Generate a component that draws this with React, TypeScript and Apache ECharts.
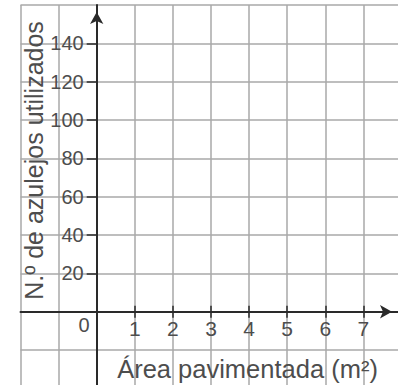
import React, { useEffect, useRef } from "react";
import * as echarts from "echarts";

// Axis ranges (grid paper extends into the negative region)
const xRange = [-2, 8];
const yRange = [-40, 160];
const xStep = 1;
const yStep = 20;

// Tick labels
const xTickLabels = [1, 2, 3, 4, 5, 6, 7];
const yTickLabels = [20, 40, 60, 80, 100, 120, 140];
const originLabel = "0";

// Titles
const xTitle = "Área pavimentada (m²)";
const yTitle = "N.º de azulejos utilizados";

const FONT = "'Liberation Sans', Arial, sans-serif";
const TEXT_COLOR = "#4d4d4d";
const AXIS_COLOR = "#2a2a2a";
const GRID_COLOR = "#a8a8a8";

const W = 398;
const H = 385;
const GRID = { left: 20.5, right: -3.5, top: 5, bottom: -3.4 };

export default function App() {
  const ref = useRef<HTMLDivElement>(null);

  useEffect(() => {
    if (!ref.current) return;
    const chart = echarts.init(ref.current, null, { renderer: "svg" });

    // pixel position of the zero lines inside the grid, used to offset the drawn axes
    const gw = W - GRID.left - GRID.right;
    const gh = H - GRID.top - GRID.bottom;
    const zeroX = GRID.left + ((0 - xRange[0]) / (xRange[1] - xRange[0])) * gw;
    const zeroY = GRID.top + ((yRange[1] - 0) / (yRange[1] - yRange[0])) * gh;
    const yAxisOffset = -(zeroX - GRID.left);
    const xBottomOffset = -(GRID.top + gh - zeroY);
    const xTopOffset = -(zeroY - GRID.top);

    const baseX = { type: "value", min: xRange[0], max: xRange[1], interval: xStep };
    const baseY = { type: "value", min: yRange[0], max: yRange[1], interval: yStep };

    const option: any = {
      animation: false,
      backgroundColor: "#ffffff",
      grid: {
        ...GRID,
        containLabel: false,
        outerBoundsMode: "none",
      },
      xAxis: [
        {
          ...baseX,
          z: 0,
          axisLine: { show: false, onZero: false },
          axisTick: { show: false },
          axisLabel: { show: false },
          splitLine: { show: true, lineStyle: { color: GRID_COLOR, width: 1.5 } },
        },
        {
          ...baseX,
          position: "bottom",
          offset: xBottomOffset,
          z: 3,
          axisLine: {
            show: true,
            onZero: false,
            symbol: ["none", "arrow"],
            symbolSize: [10, 12],
            symbolOffset: [0, -9.5],
            lineStyle: { color: AXIS_COLOR, width: 2 },
          },
          axisTick: {
            show: true,
            customValues: xTickLabels,
            length: 6,
            lineStyle: { color: AXIS_COLOR, width: 1.5 },
          },
          axisLabel: {
            show: true,
            customValues: xTickLabels,
            margin: 6,
            fontSize: 21,
            fontFamily: FONT,
            color: TEXT_COLOR,
            formatter: (v: number) => (xTickLabels.includes(v) ? String(v) : ""),
          },
          splitLine: { show: false },
        },
        {
          ...baseX,
          position: "top",
          offset: xTopOffset,
          z: 3,
          axisLine: { show: false, onZero: false },
          axisTick: {
            show: true,
            customValues: xTickLabels,
            length: 6,
            lineStyle: { color: AXIS_COLOR, width: 1.5 },
          },
          axisLabel: { show: false },
          splitLine: { show: false },
        },
      ],
      yAxis: [
        {
          ...baseY,
          z: 0,
          axisLine: { show: false, onZero: false },
          axisTick: { show: false },
          axisLabel: { show: false },
          splitLine: { show: true, lineStyle: { color: GRID_COLOR, width: 1.5 } },
        },
        {
          ...baseY,
          position: "left",
          offset: yAxisOffset,
          z: 3,
          axisLine: {
            show: true,
            onZero: false,
            symbol: ["none", "arrow"],
            symbolSize: [10, 12],
            symbolOffset: [0, -7],
            lineStyle: { color: AXIS_COLOR, width: 2 },
          },
          axisTick: {
            show: true,
            customValues: yTickLabels,
            length: 10,
            lineStyle: { color: AXIS_COLOR, width: 1.5 },
          },
          axisLabel: {
            show: true,
            customValues: yTickLabels,
            margin: 13,
            fontSize: 20,
            fontFamily: FONT,
            color: TEXT_COLOR,
            formatter: (v: number) => (yTickLabels.includes(v) ? String(v) : ""),
          },
          splitLine: { show: false },
        },
      ],
      series: [],
      graphic: [
        {
          type: "text",
          x: 84,
          y: 325,
          z: 10,
          style: {
            text: originLabel,
            fontSize: 20,
            fontFamily: FONT,
            fill: TEXT_COLOR,
            align: "center",
            verticalAlign: "middle",
          },
        },
        {
          type: "text",
          x: 247.5,
          y: 369,
          z: 10,
          style: {
            text: xTitle,
            fontSize: 25.5,
            fontFamily: FONT,
            fill: TEXT_COLOR,
            align: "center",
            verticalAlign: "middle",
          },
        },
        {
          type: "text",
          x: 34,
          y: 160.5,
          rotation: Math.PI / 2,
          z: 10,
          style: {
            text: yTitle,
            fontSize: 25,
            fontFamily: FONT,
            fill: TEXT_COLOR,
            align: "center",
            verticalAlign: "middle",
          },
        },
      ],
    };

    chart.setOption(option);
    return () => chart.dispose();
  }, []);

  return (
    <div
      ref={ref}
      style={{ position: "fixed", left: 0, top: 0, width: W, height: H, background: "#fff" }}
    />
  );
}
